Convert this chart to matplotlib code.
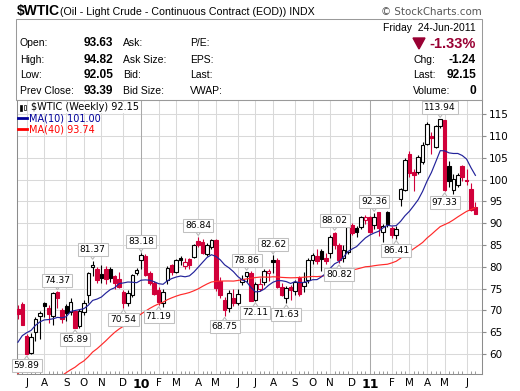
import numpy as np
import pandas as pd
import matplotlib
matplotlib.use("Agg")
import matplotlib.pyplot as plt
from matplotlib.patches import Rectangle, Polygon

# ---------------- data ----------------
# weekly closes before the visible window (used only for the moving averages)
pre_close = [106.89, 93.88, 77.70, 71.85, 64.15, 67.81, 61.04, 57.04, 49.93, 54.43,
             40.81, 46.28, 42.36, 37.71, 46.34, 40.83, 36.51, 46.47, 41.68, 40.17,
             37.51, 38.94, 44.76, 45.52, 46.25, 51.06, 52.38, 52.51, 52.24, 50.33,
             51.55, 53.20, 58.63, 56.34, 61.67, 66.31, 68.44, 72.04, 69.55]

open_ = [70.3, 71.5, 64.1, 60.3, 65.0, 68.7, 71.6, 70.6, 68.6, 74.3,
         70.0, 71.0, 69.6, 69.9, 66.5, 69.6, 73.6, 79.9, 79.6, 78.3,
         79.5, 79.5, 77.8, 77.3, 74.2, 71.7, 73.6, 78.6, 81.6, 82.6,
         78.6, 76.3, 74.6, 71.7, 77.0, 80.4, 78.8, 82.0, 80.2, 81.8,
         82.3, 86.0, 85.6, 83.0, 84.6, 86.1, 76.8, 72.3, 70.6, 72.9,
         71.7, 76.5, 77.9, 78.6, 72.3, 74.8, 76.5, 78.6, 81.6, 81.6,
         75.4, 72.9, 75.4, 74.5, 77.4, 75.6, 77.0, 81.6, 82.5, 83.6,
         82.0, 83.2, 87.7, 85.0, 82.0, 83.4, 89.6, 88.9, 89.2, 90.8,
         91.4, 89.6, 92.6, 88.0, 92.6, 89.0, 87.2, 95.5, 97.7, 105.9,
         101.8, 101.8, 104.1, 108.3, 110.0, 107.5, 112.3, 113.7, 103.1, 97.7,
         98.8, 103.2, 99.9, 97.8, 93.7]

high = [71.2, 72.0, 64.6, 64.8, 68.4, 69.8, 71.9, 71.3, 74.2, 74.37,
        70.5, 71.4, 72.9, 70.2, 70.4, 72.5, 78.9, 81.37, 80.0, 80.5,
        80.1, 80.0, 78.2, 78.9, 74.6, 74.6, 78.3, 79.7, 83.18, 82.9,
        79.0, 76.8, 75.4, 75.0, 80.2, 80.6, 81.8, 82.5, 82.0, 82.0,
        85.2, 86.84, 86.3, 85.5, 86.3, 86.3, 77.6, 73.0, 74.6, 75.0,
        75.0, 78.2, 78.86, 79.0, 76.5, 77.5, 79.5, 79.6, 82.62, 82.0,
        76.2, 75.6, 75.8, 77.0, 77.8, 78.8, 82.0, 83.2, 84.0, 84.2,
        83.2, 87.2, 88.02, 85.4, 85.0, 89.6, 90.0, 89.4, 91.6, 91.9,
        91.6, 92.36, 92.7, 89.9, 92.8, 89.4, 89.3, 98.2, 104.9, 106.5,
        102.5, 105.6, 108.6, 113.2, 110.9, 112.5, 113.94, 113.8, 104.2, 101.2,
        101.6, 103.3, 102.4, 99.3, 94.82]

low = [68.1, 66.6, 59.89, 59.9, 63.0, 63.5, 68.5, 67.0, 66.6, 70.5,
       67.1, 67.5, 69.0, 65.89, 65.9, 68.9, 71.6, 77.8, 76.4, 76.2,
       76.0, 76.5, 75.0, 75.2, 70.54, 71.0, 73.0, 78.2, 79.6, 77.8,
       75.8, 73.6, 71.19, 70.8, 76.0, 78.2, 78.5, 80.5, 79.5, 79.6,
       82.0, 84.5, 83.0, 82.6, 84.0, 74.5, 72.9, 68.75, 69.6, 71.0,
       71.2, 75.9, 76.5, 72.2, 72.11, 74.4, 75.8, 76.8, 78.6, 75.2,
       73.3, 71.63, 72.4, 73.6, 73.4, 74.3, 76.4, 80.6, 80.6, 79.0,
       80.6, 82.0, 84.0, 80.82, 81.2, 83.0, 87.4, 86.9, 88.6, 89.9,
       87.8, 88.6, 87.1, 85.6, 89.2, 86.6, 86.41, 94.0, 97.3, 100.6,
       97.3, 101.2, 103.6, 107.9, 106.0, 107.2, 111.9, 97.33, 98.3, 96.8,
       98.4, 99.6, 98.9, 92.9, 92.05]

close = [69.16, 66.73, 59.95, 63.9, 68.05, 69.45, 70.93, 69.2, 73.89, 72.74,
         68.02, 69.5, 72.04, 66.02, 69.95, 71.77, 78.53, 80.5, 77.0, 77.43,
         77.1, 77.35, 76.3, 75.47, 71.6, 73.9, 78.05, 79.36, 82.75, 78.2,
         76.3, 73.8, 71.9, 74.13, 79.81, 78.9, 81.5, 81.6, 81.0, 80.4,
         85.0, 84.92, 83.24, 85.12, 86.15, 75.11, 73.6, 70.04, 74.0, 71.7,
         73.78, 77.18, 78.86, 72.2, 76.09, 76.01, 78.98, 78.95, 81.0, 75.39,
         73.46, 75.17, 74.6, 76.45, 73.66, 76.49, 81.58, 82.66, 81.25, 81.69,
         81.43, 86.85, 85.0, 81.51, 83.76, 89.19, 87.79, 88.02, 91.5, 91.38,
         88.03, 91.54, 88.9, 89.34, 89.8, 87.4, 88.7, 97.88, 104.42, 101.5,
         101.07, 105.2, 107.94, 112.79, 109.66, 112.29, 113.93, 97.6, 99.65, 100.1,
         101.1, 100.6, 99.6, 93.0, 92.15]

last_date = "2011-06-24"
hi_label_idx = [9, 17, 28, 41, 52, 58, 72, 81, 96]
lo_label_idx = [2, 13, 24, 32, 47, 54, 61, 73, 86, 97]

header_left = [("Open:", "93.63", "Ask:", "P/E:"),
               ("High:", "94.82", "Ask Size:", "EPS:"),
               ("Low:", "92.05", "Bid:", "Last:"),
               ("Prev Close:", "93.39", "Bid Size:", "VWAP:")]
header_right = [("Chg:", "-1.24"), ("Last:", "92.15"), ("Volume:", "0")]
pct_change = "-1.33%"
date_text = "Friday  24-Jun-2011"
legend_main = "$WTIC (Weekly) 92.15"
legend_ma10 = "MA(10) 101.00"
legend_ma40 = "MA(40) 93.74"

# ---------------- figure ----------------
W, H = 520, 391
fig = plt.figure(figsize=(W / 100, H / 100), dpi=100)
fig.patch.set_facecolor("white")


def fx(x):
    return x / W


def fy(y):
    return 1 - y / H


RED = "#d1003a"
DKRED = "#990033"
BLUE = "#22229a"
MAR = "#ff2a2a"
GRID = "#d9d9d9"
SANS = "Liberation Sans"
VER = "DejaVu Sans"

ax = fig.add_axes([fx(17), fy(374), fx(482) - fx(17), fy(100) - fy(374)])
n = len(close)
xs = np.arange(n)
ax.set_xlim(-0.2, 105.5)
ax.set_ylim(55.4, 118.3)

# month gridlines / labels
dates = pd.date_range(end=last_date, periods=n, freq="W-FRI")
mondays = dates - pd.Timedelta(days=4)
tick_pos, tick_lab, is_year = [], [], []
for i in range(1, n):
    if mondays[i].month != mondays[i - 1].month:
        tick_pos.append(i)
        if mondays[i].month == 1:
            tick_lab.append(mondays[i].strftime("%y"))
            is_year.append(True)
        else:
            tick_lab.append(mondays[i].strftime("%b")[0])
            is_year.append(False)

for v in range(60, 116, 5):
    ax.axhline(v, color=GRID, lw=0.75, zorder=0)
for p, y in zip(tick_pos, is_year):
    ax.axvline(p, color="#a9a9a9" if y else GRID, lw=0.75, zorder=0)

# candles
prev = [pre_close[-1]] + close[:-1]
for i in range(n):
    o, h, l, c = open_[i], high[i], low[i], close[i]
    col = RED if c < prev[i] else "black"
    ax.plot([i, i], [l, h], color=col, lw=0.8, zorder=3, solid_capstyle="butt")
    b = min(o, c)
    hh = max(abs(c - o), 0.18)
    face = col if c < o else "white"
    ax.add_patch(Rectangle((i - 0.4, b), 0.8, hh, facecolor=face, edgecolor=col,
                           lw=0.8, zorder=4))

# moving averages
allc = pd.Series(pre_close + close)
ma10 = allc.rolling(10).mean().values[len(pre_close):]
ma40 = allc.rolling(40).mean().values[len(pre_close):]
ax.plot(xs, ma40, color=MAR, lw=0.85, zorder=5)
ax.plot(xs, ma10, color=BLUE, lw=0.85, zorder=5)

# swing labels
def swing_label(i, val, up):
    if up:
        yc = val + 1.4 + 1.15
        tri = [(i - 0.75, val + 1.45), (i + 0.75, val + 1.45), (i, val + 0.35)]
    else:
        yc = val - 1.4 - 1.15
        tri = [(i - 0.75, val - 1.45), (i + 0.75, val - 1.45), (i, val - 0.35)]
    ax.add_patch(Polygon(tri, closed=True, facecolor="white", edgecolor="#b8b8b8",
                         lw=0.75, zorder=6))
    ax.text(i, yc, f"{val:.2f}", ha="center", va="center", fontsize=6.6,
            family=VER, zorder=7,
            bbox=dict(boxstyle="square,pad=0.22", fc="white", ec="#c0c0c0", lw=0.75))


for i in hi_label_idx:
    swing_label(i, high[i], True)
for i in lo_label_idx:
    swing_label(i, low[i], False)

# axes styling
for s in ax.spines.values():
    s.set_color("#8c8c8c")
    s.set_linewidth(0.75)
ax.yaxis.tick_right()
ax.set_yticks(range(60, 116, 5))
ax.set_yticklabels([str(v) for v in range(60, 116, 5)], fontsize=7.5, family=VER)
ax.tick_params(axis="y", length=3, color="#8c8c8c", pad=2)
ax.set_xticks(tick_pos)
ax.set_xticklabels(tick_lab, fontsize=7.5, family=VER)
for lab, y in zip(ax.get_xticklabels(), is_year):
    if y:
        lab.set_fontweight("bold")
        lab.set_fontsize(9)
ax.tick_params(axis="x", length=0, pad=3)
ax.set_xticks(xs, minor=True)
ax.tick_params(axis="x", which="minor", length=2, direction="in", color="#8c8c8c")

# in-plot legend
fig.text(fx(31), fy(107.5), legend_main, fontsize=7, family=VER, va="center",
         ha="left", bbox=dict(boxstyle="square,pad=0.1", fc="white", ec="none"))
fig.patches.append(Rectangle((fx(20), fy(111)), 2 / W, 6 / H, transform=fig.transFigure,
                             facecolor="black", edgecolor="black", lw=0.5))
fig.patches.append(Rectangle((fx(24), fy(110)), 2 / W, 5 / H, transform=fig.transFigure,
                             facecolor="white", edgecolor="black", lw=0.5))
fig.lines.append(plt.Line2D([fx(18), fx(27)], [fy(118.3)] * 2, transform=fig.transFigure,
                            color="#000099", lw=2))
fig.text(fx(29), fy(118.3), legend_ma10, fontsize=7, family=VER, va="center",
         color="#000099")
fig.lines.append(plt.Line2D([fx(18), fx(27)], [fy(129.3)] * 2, transform=fig.transFigure,
                            color="#ff0000", lw=2))
fig.text(fx(29), fy(129.3), legend_ma40, fontsize=7, family=VER, va="center",
         color="#ff0000")

# title row
fig.text(fx(16.5), fy(11.5), "$WTIC", fontsize=10, fontweight="bold", family=SANS,
         va="center")
fig.text(fx(60), fy(12), "(Oil - Light Crude - Continuous Contract (EOD)) INDX",
         fontsize=7.7, family=SANS, va="center")
fig.text(fx(482), fy(12), "\u00a9 StockCharts.com", fontsize=7.4, family=VER,
         va="center", ha="right", color="#555555")

# header box
fig.patches.append(Rectangle((fx(16), fy(100)), fx(482) - fx(16), fy(19) - fy(100),
                             transform=fig.transFigure, fill=False,
                             edgecolor="#9a9a9a", lw=0.75))
rows_y = [43.5, 60, 75.5, 90.5]
for (a, b, c, d), y in zip(header_left, rows_y):
    fig.text(fx(20), fy(y), a, fontsize=7.5, family=SANS, va="center")
    fig.text(fx(113), fy(y), b, fontsize=8.6, family=SANS, va="center", ha="right",
             fontweight="bold")
    fig.text(fx(123), fy(y), c, fontsize=7.5, family=SANS, va="center")
    fig.text(fx(190), fy(y), d, fontsize=7.5, family=SANS, va="center")

fig.text(fx(476), fy(28), date_text, fontsize=7.5, family=SANS, va="center", ha="right")
fig.patches.append(Polygon([(fx(413), fy(38)), (fx(425), fy(38)), (fx(419), fy(49))],
                           closed=True, transform=fig.transFigure, facecolor=DKRED,
                           edgecolor=DKRED))
fig.text(fx(476), fy(44), pct_change, fontsize=10.5, family=SANS, va="center", ha="right",
         color=DKRED, fontweight="bold")
for (a, b), y in zip(header_right, rows_y[1:]):
    fig.text(fx(413), fy(y), a, fontsize=7.5, family=SANS, va="center")
    fig.text(fx(476), fy(y), b, fontsize=8.6, family=SANS, va="center", ha="right",
             fontweight="bold")

fig.savefig("out.png", dpi=100)
